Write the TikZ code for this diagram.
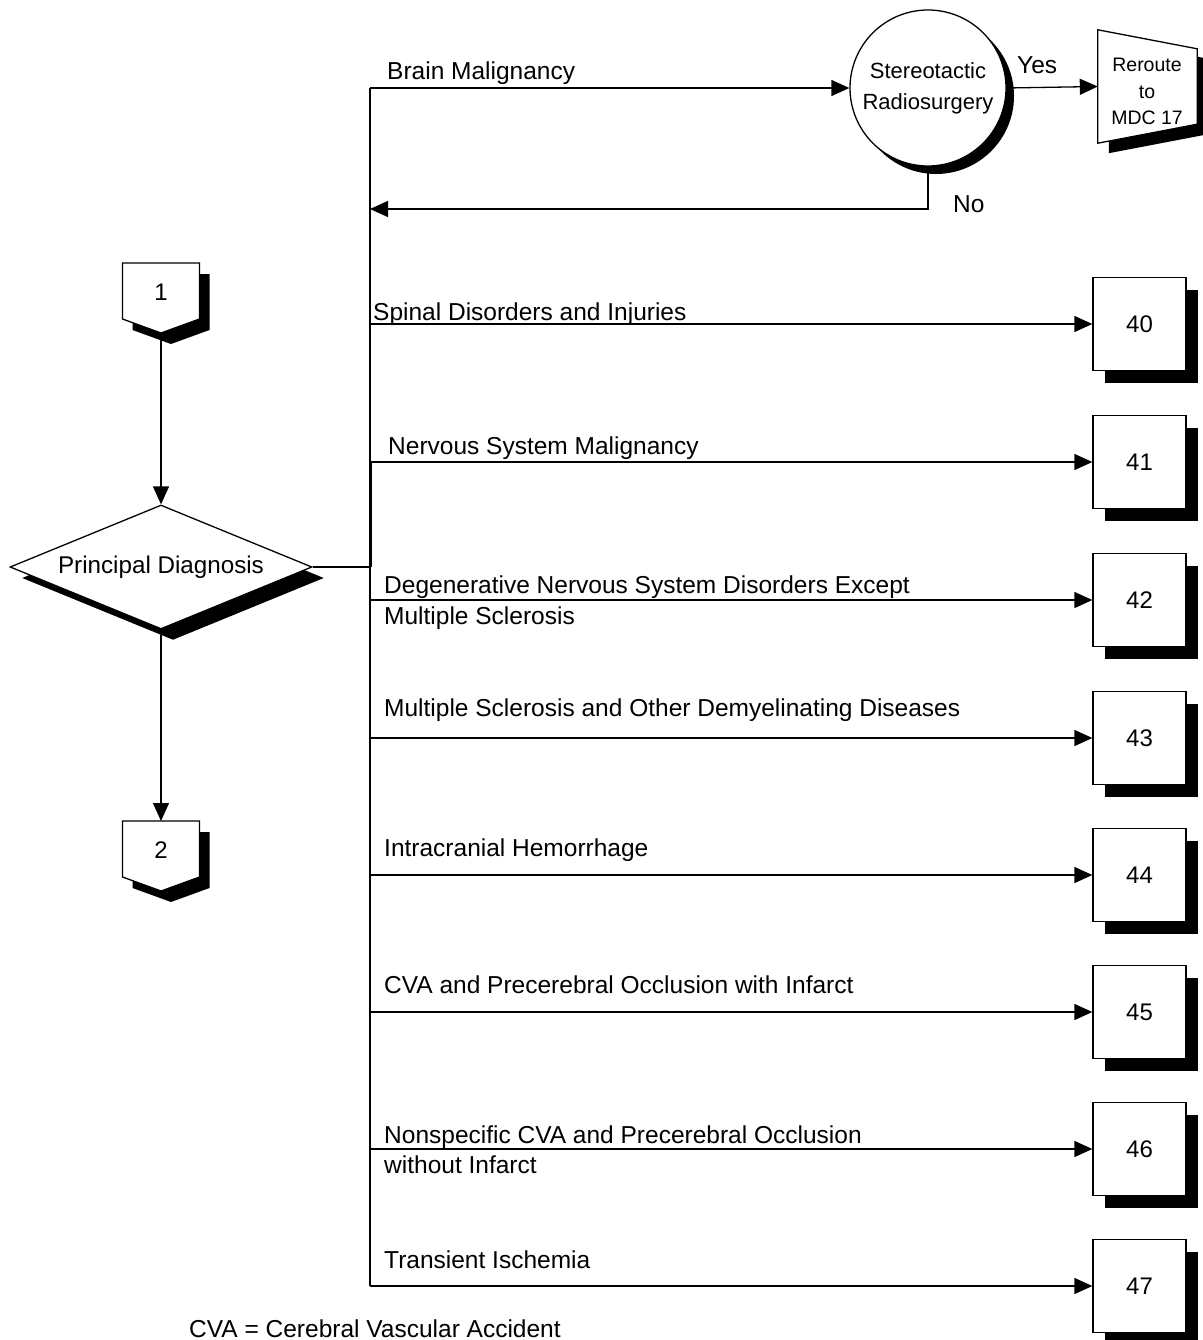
\documentclass[tikz,border=0pt]{standalone}
\usepackage{fontspec}
\setmainfont{Liberation Sans}
\usetikzlibrary{arrows.meta,shapes.geometric,shadows}

\tikzset{
  line/.style={line width=1.3pt, draw=black},
  arr/.style={line, -{Triangle[length=18pt,width=16pt]}},
  lbl/.style={anchor=base west, inner sep=0pt, font=\fontsize{24.5}{28}\selectfont},
  shadowed/.style={drop shadow={shadow xshift=#1, shadow yshift=-#1, fill=black, opacity=1}},
  dest/.style={draw, line width=1.3pt, fill=white, minimum width=93pt, minimum height=93pt,
    inner sep=0pt, font=\fontsize{24}{28}\selectfont, shadowed=12pt},
  offpage/.pic={
    \fill[black] (-28.5,-24) -- (48.5,-24) -- (48.5,32) -- (10,46) -- (-28.5,32) -- cycle;
    \draw[line, fill=white] (-38.5,-35) -- (38.5,-35) -- (38.5,21) -- (0,35) -- (-38.5,21) -- cycle;
    \node[inner sep=0pt, font=\fontsize{24}{28}\selectfont] (-n) at (0,-5.5) {#1};
    \coordinate (-top) at (0,-35);
    \coordinate (-tip) at (0,35);
  }
}

\begin{document}
\begin{tikzpicture}[x=1pt,y=-1pt]
\useasboundingbox (0,0) rectangle (1202,1340);

% off-page connectors and the decision diamond
\pic (c1) at (161,298) {offpage=1};
\pic (c2) at (161,856) {offpage=2};
\node[diamond, draw, line width=1.3pt, fill=white, minimum width=302pt, minimum height=124pt,
      shape aspect=2.44, inner sep=0pt, font=\fontsize{24.2}{28}\selectfont,
      drop shadow={shadow xshift=12pt, shadow yshift=-11pt, fill=black, opacity=1}]
      (diag) at (161,567) {Principal Diagnosis};

\draw[arr] (c1-tip) -- (diag.north);
\draw[arr] (diag.south) -- (c2-top);

% stereotactic radiosurgery check
\node[circle, draw, line width=1.3pt, fill=white, minimum size=156pt, inner sep=0pt,
      align=center, font=\fontsize{22}{31}\selectfont, shadowed=8pt]
      (srs) at (928,88) {Stereotactic\\Radiosurgery};

% reroute (manual input shape)
\node[minimum width=99pt, minimum height=113pt, inner sep=0pt] (rr) at (1147.5,86.5) {};
\fill[black] ([shift={(11pt,-10pt)}]rr.north west) -- ([shift={(11pt,-29pt)}]rr.north east)
  -- ([shift={(11pt,9pt)}]rr.south east) -- ([shift={(11pt,-10pt)}]rr.south west) -- cycle;
\draw[line, fill=white] (rr.north west) -- ([yshift=-19pt]rr.north east)
  -- ([yshift=19pt]rr.south east) -- (rr.south west) -- cycle;
\node[align=center, inner sep=0pt, font=\fontsize{19.5}{26.5}\selectfont] (rrtext) at (1147,91.5)
  {Reroute\\to\\MDC 17};

% trunk junctions
\coordinate (jtop) at (370,88);
\coordinate (jno) at (370,209);
\coordinate (jdiag) at (370,567);
\coordinate (jnerve) at (370,462);
\coordinate (jbot) at (370,1286);
\coordinate (nobend) at (928,209);

\draw[line] (jtop) -- (jbot);
\draw[line, line width=2.2pt] ([xshift=1pt]jnerve) -- ([xshift=1pt]jdiag);
\draw[line] (diag.east) -- ([xshift=1pt]jdiag);
\draw[arr] (jtop) -- (srs.west);
\draw[arr] (srs.east) -- (rr.west);
\draw[arr] (srs.south) -- (nobend) -- (jno);

\node[lbl] (yes) at (1017,74) {Yes};
\node[lbl] (no) at (953,213) {No};
\node[lbl] (lbrain) at (387,79.5) {Brain Malignancy};

% destination boxes
\foreach \n/\y in {40/324,41/462,42/600,43/738,44/875,45/1012,46/1149,47/1286}{
  \node[dest] (b\n) at (1139.5,\y) {\n};
  \coordinate (j\n) at (370,\y);
  \draw[arr] (j\n) -- (b\n.west);
}

% branch labels
\node[lbl] (l40) at (373,320) {Spinal Disorders and Injuries};
\node[lbl] (l41) at (388,454) {Nervous System Malignancy};
\node[lbl] (l42a) at (384,593) {Degenerative Nervous System Disorders Except};
\node[lbl] (l42b) at (384,624) {Multiple Sclerosis};
\node[lbl] (l43) at (384,716.5) {Multiple Sclerosis and Other Demyelinating Diseases};
\node[lbl] (l44) at (384,856.5) {Intracranial Hemorrhage};
\node[lbl] (l45) at (384,993.5) {CVA and Precerebral Occlusion with Infarct};
\node[lbl] (l46a) at (384,1143) {Nonspecific CVA and Precerebral Occlusion};
\node[lbl] (l46b) at (384,1173) {without Infarct};
\node[lbl] (l47) at (384,1268) {Transient Ischemia};

% abbreviation note
\node[lbl] (note) at (189,1337) {CVA = Cerebral Vascular Accident};
\end{tikzpicture}
\end{document}
